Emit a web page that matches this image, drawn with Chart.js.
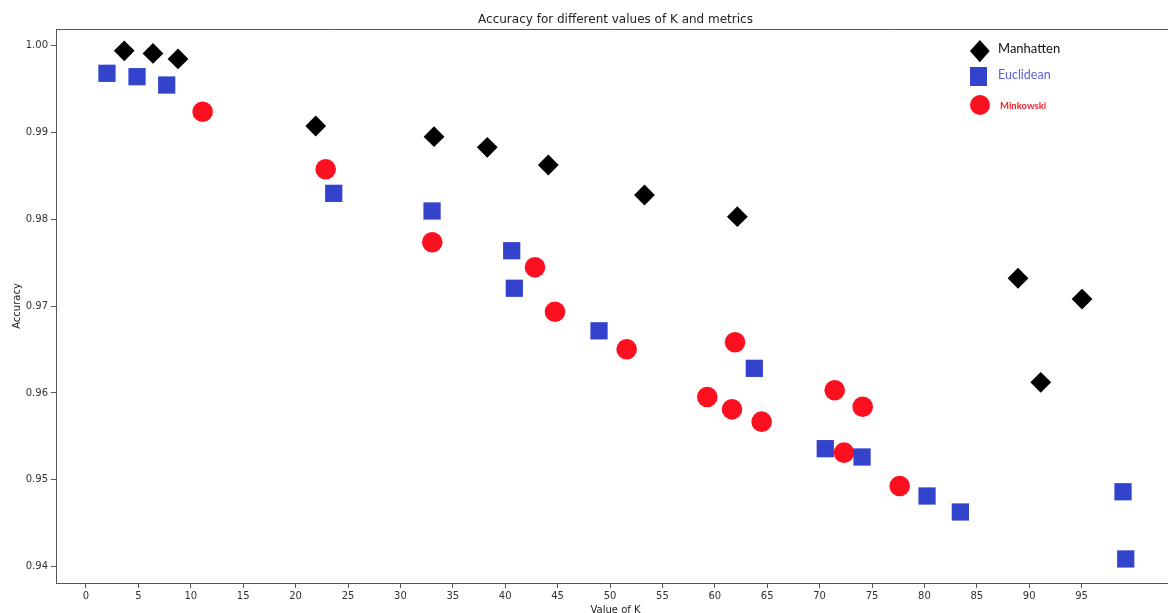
<!DOCTYPE html>
<html>
<head>
<meta charset="utf-8">
<script src="https://cdn.jsdelivr.net/npm/chart.js"></script>
<style>
html,body{margin:0;padding:0;background:#fff;overflow:hidden;}
#wrap{position:relative;width:1168px;height:613px;overflow:hidden;background:#fff;}
#c{position:absolute;left:0;top:0;}
.mk{position:absolute;}
.lt{position:absolute;white-space:nowrap;font-family:Lato,"Open Sans",sans-serif;}
</style>
</head>
<body>
<div id="wrap">
<canvas id="c" width="1175" height="640" style="width:1175px;height:640px"></canvas>
<div class="mk" style="left:972.8px;top:43.6px;width:13.7px;height:13.7px;background:#000;transform:scaleY(1.13) rotate(45deg);"></div>
<div class="lt" style="left:998px;top:41.8px;font-size:13px;line-height:13px;color:#111;">Manhatten</div>
<div class="mk" style="left:969.8px;top:66.8px;width:17px;height:19px;background:#3343cc;"></div>
<div class="lt" style="left:998px;top:68.9px;font-size:12.5px;line-height:12.5px;color:#5b5fe0;">Euclidean</div>
<div class="mk" style="left:970px;top:95px;width:20px;height:20px;border-radius:50%;background:#fc0f1f;"></div>
<div class="lt" style="left:1000px;top:100.9px;font-size:9.5px;line-height:9.5px;font-weight:bold;color:#f5222d;">Minkowski</div>
</div>
<script>
// ---- data ----
const manhattenK   = [3.65, 6.39, 8.78, 21.92, 33.21, 38.29, 44.11, 53.29, 62.15, 88.93, 91.10, 95.04];
const manhattenAcc = [0.9994, 0.9991, 0.99846, 0.99074, 0.98951, 0.98829, 0.98625, 0.98280, 0.98030, 0.97321, 0.96123, 0.97082];

const euclideanK   = [2.0, 4.87, 7.70, 23.64, 33.02, 40.62, 40.87, 48.95, 63.77, 70.54, 74.05, 80.25, 83.43, 98.95, 99.21];
const euclideanAcc = [0.99681, 0.99642, 0.99546, 0.98299, 0.98096, 0.97638, 0.97206, 0.96716, 0.96284, 0.95359, 0.95263, 0.94814, 0.94630, 0.94863, 0.94089];

const minkowskiK   = [11.13, 22.87, 33.04, 42.84, 44.75, 51.59, 59.28, 61.64, 61.93, 64.47, 71.44, 74.11, 72.33, 77.64];
const minkowskiAcc = [0.99239, 0.98576, 0.97735, 0.97447, 0.96936, 0.96504, 0.95954, 0.95812, 0.96584, 0.95670, 0.96031, 0.95842, 0.95313, 0.94929];

const xTicks = [0, 5, 10, 15, 20, 25, 30, 35, 40, 45, 50, 55, 60, 65, 70, 75, 80, 85, 90, 95];
const yTicks = [0.94, 0.95, 0.96, 0.97, 0.98, 0.99, 1.00];

const seriesNames = ['Manhatten', 'Euclidean', 'Minkowski'];
const titleText = 'Accuracy for different values of K and metrics';
const xTitle = 'Value of K';
const yTitle = 'Accuracy';

function pts(xs, ys) { return xs.map((x, i) => ({ x: x, y: ys[i] })); }

const tickFont = { family: 'DejaVu Sans', size: 10 };

const framePlugin = {
  id: 'frame',
  afterDatasetsDraw(chart) {
    const { ctx, chartArea: a } = chart;
    ctx.save();
    ctx.strokeStyle = '#555';
    ctx.lineWidth = 1;
    ctx.beginPath();
    ctx.moveTo(a.left, Math.round(a.top) + 0.5);
    ctx.lineTo(a.right, Math.round(a.top) + 0.5);
    ctx.moveTo(Math.round(a.right) - 0.5, a.top);
    ctx.lineTo(Math.round(a.right) - 0.5, a.bottom);
    ctx.stroke();
    ctx.restore();
  }
};

new Chart(document.getElementById('c'), {
  type: 'scatter',
  data: {
    datasets: [
      { label: seriesNames[0], data: pts(manhattenK, manhattenAcc), pointStyle: 'rectRot', pointRadius: 10.4, pointHoverRadius: 10.4, backgroundColor: '#000000', borderWidth: 0 },
      { label: seriesNames[1], data: pts(euclideanK, euclideanAcc), pointStyle: 'rect', pointRadius: 12.2, pointHoverRadius: 12.2, backgroundColor: '#3343cc', borderWidth: 0 },
      { label: seriesNames[2], data: pts(minkowskiK, minkowskiAcc), pointStyle: 'circle', pointRadius: 10.3, pointHoverRadius: 10.3, backgroundColor: '#fc0f1f', borderWidth: 0 }
    ]
  },
  options: {
    responsive: false,
    devicePixelRatio: 1,
    animation: false,
    events: [],
    layout: { autoPadding: false, padding: { left: 0, right: 0, top: 0, bottom: 24 } },
    plugins: {
      legend: { display: false },
      tooltip: { enabled: false },
      title: {
        display: true,
        fullSize: false,
        text: titleText,
        color: '#222',
        font: { family: 'DejaVu Sans', size: 12, weight: 'normal' },
        padding: { top: 12.3, bottom: 2.3 }
      }
    },
    scales: {
      x: {
        type: 'linear',
        position: 'bottom',
        min: -2.862,
        max: 103.91,
        afterBuildTicks: s => { s.ticks = xTicks.map(v => ({ value: v })); },
        afterFit: s => { s.height = 33; },
        ticks: { color: '#333', font: tickFont, padding: 2, maxRotation: 0, autoSkip: false, callback: v => String(v) },
        grid: { display: true, drawOnChartArea: false, drawTicks: true, tickLength: 5, color: '#555' },
        border: { display: true, color: '#555', width: 1 },
        title: { display: true, text: xTitle, color: '#222', font: tickFont, padding: { top: 0, bottom: 0 } }
      },
      y: {
        type: 'linear',
        position: 'left',
        min: 0.938123,
        max: 1.001911,
        afterBuildTicks: s => { s.ticks = yTicks.map(v => ({ value: v })); },
        afterFit: s => { s.width = 56; },
        ticks: { color: '#333', font: tickFont, padding: 3, autoSkip: false, callback: v => Number(v).toFixed(2) },
        grid: { display: true, drawOnChartArea: false, drawTicks: true, tickLength: 5, color: '#555' },
        border: { display: true, color: '#555', width: 1 },
        title: { display: true, text: yTitle, color: '#222', font: tickFont, padding: { top: 11.5, bottom: 0 } }
      }
    }
  },
  plugins: [framePlugin]
});
</script>
</body>
</html>
